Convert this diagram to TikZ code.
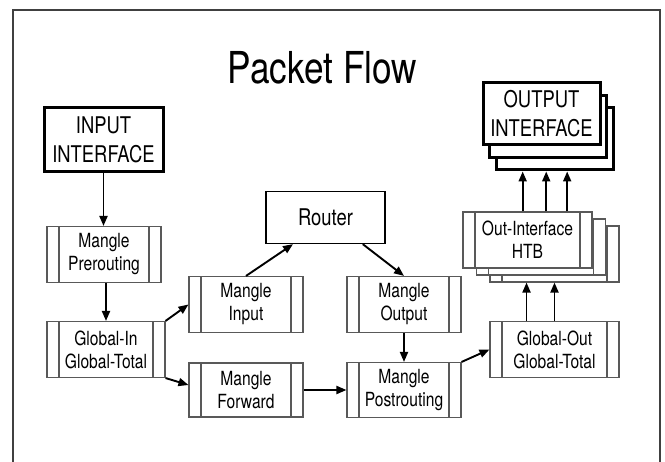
\documentclass[tikz,border=0pt]{standalone}
\usepackage{fontspec}
\setmainfont[FakeStretch=0.8]{TeX Gyre Heros}
\usetikzlibrary{arrows.meta,calc}
\begin{document}
\begin{tikzpicture}[x=1pt,y=-1pt,
  proc/.style={draw=black!65, line width=1.1pt, fill=white, minimum width=114pt,
    minimum height=56pt, inner sep=0pt, align=center,
    font=\fontsize{19.5}{23}\selectfont,
    path picture={\draw[black!65, line width=1.1pt]
      ([xshift=12pt]path picture bounding box.north west) -- ([xshift=12pt]path picture bounding box.south west)
      ([xshift=-12pt]path picture bounding box.north east) -- ([xshift=-12pt]path picture bounding box.south east);}},
  iface/.style={draw=black, line width=3pt, fill=white, minimum width=117pt,
    minimum height=62pt, inner sep=0pt, align=center,
    font=\fontsize{23}{29}\selectfont},
  plainbox/.style={draw=black, line width=1.3pt, fill=white, minimum width=119pt,
    minimum height=52pt, inner sep=0pt, font=\fontsize{23}{28}\selectfont},
  arr/.style={-{Triangle[length=10pt,width=8pt]}, line width=1.9pt, black}
]
\useasboundingbox (0,0) rectangle (665,462);
\clip (0,0) rectangle (665,462);
\draw[black!75, line width=2pt] (13,475) -- (13,10) -- (660,10) -- (660,475);

\node[anchor=base, font=\fontsize{44}{50}\selectfont] (title) at (322.5,83.3) {Packet Flow};

\node[iface, minimum width=119pt, minimum height=64pt] (inp) at (103.5,140) {INPUT\\INTERFACE};
\node[iface] (out3) at (554.5,139) {};
\node[iface] (out2) at (548,126.5) {};
\node[iface] (out1) at (541.5,114) {OUTPUT\\INTERFACE};

\node[plainbox] (rtr) at (325.5,217.5) {Router};

\node[proc] (pre) at (104,254.5) {Mangle\\Prerouting};
\node[proc, minimum width=118pt] (gin) at (106,349.5) {Global-In\\Global-Total};
\node[proc] (min) at (246,304.5) {Mangle\\Input};
\node[proc, minimum height=54pt] (mfw) at (246,390) {Mangle\\Forward};
\node[proc] (mout) at (404,304.5) {Mangle\\Output};
\node[proc, minimum height=55pt] (mpost) at (404,390) {Mangle\\Postrouting};
\node[proc, minimum width=129pt] (gout) at (554.5,349.5) {Global-Out\\Global-Total};
\node[proc, minimum width=129pt] (oi3) at (554.5,254) {};
\node[proc, minimum width=129pt] (oi2) at (541,247) {};
\node[proc, minimum width=129pt] (oi1) at (527.5,240) {Out-Interface\\HTB};

\draw[arr] (inp.south) -- (inp.south |- pre.north);
\draw[arr] (pre.south -| gin.north) -- (gin.north);
\draw[arr] (gin.north east) -- (min.west);
\draw[arr] (gin.south east) -- ([yshift=5pt]mfw.west);
\draw[arr] (min.north) -- ($(rtr.south west)!0.23!(rtr.south east)$);
\draw[arr] ($(rtr.south west)!0.81!(rtr.south east)$) -- (mout.north);
\draw[arr] (mfw.east) -- (mpost.west);
\draw[arr] (mout.south) -- (mpost.north);
\draw[arr] (mpost.north east) -- (gout.west);
\coordinate (g1) at ($(gout.north west)!0.285!(gout.north east)$);
\draw[arr] (g1) -- (g1 |- oi3.south);
\draw[arr] (gout.north) -- (gout.north |- oi3.south);
\coordinate (t1) at ($(oi1.north west)!0.463!(oi1.north east)$);
\coordinate (t2) at ($(oi1.north west)!0.644!(oi1.north east)$);
\coordinate (t3) at ($(oi1.north west)!0.805!(oi1.north east)$);
\draw[arr] (t1) -- (t1 |- out3.south);
\draw[arr] (t2) -- (t2 |- out3.south);
\draw[arr] (t3) -- (t3 |- out3.south);
\end{tikzpicture}
\end{document}
